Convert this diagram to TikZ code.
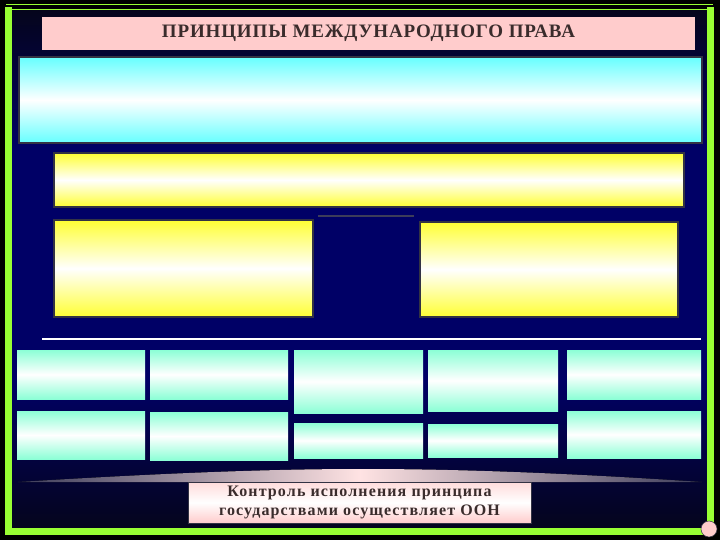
\documentclass[tikz,border=0pt]{standalone}
\usepackage{fontspec}
\setmainfont{Liberation Serif}
\usetikzlibrary{positioning}
\definecolor{framegreen}{HTML}{99FF33}
\definecolor{deepnavy}{HTML}{000066}
\definecolor{nightnavy}{HTML}{05051C}
\definecolor{titlepink}{HTML}{FFCCCC}
\definecolor{skycyan}{HTML}{66FFFF}
\definecolor{sunyellow}{HTML}{FFFF33}
\definecolor{mintaqua}{HTML}{8CFFD6}
\definecolor{edgegray}{HTML}{333344}
\definecolor{inkbrown}{HTML}{3A2C2C}
\definecolor{archgray}{HTML}{3C3C5A}

\begin{document}
\begin{tikzpicture}[x=1pt, y=-1pt]
\tikzstyle{titleBar} = [rectangle, inner sep=0pt, minimum width=653pt, minimum height=33pt, text centered, fill=titlepink, text=inkbrown, font=\fontsize{19}{21}\selectfont\bfseries\addfontfeature{LetterSpace=4.5}]
\tikzstyle{cyanBox} = [rectangle, inner sep=0pt, draw=edgegray, line width=2.5pt, top color=skycyan, bottom color=skycyan, middle color=white]
\tikzstyle{yellowBox} = [rectangle, inner sep=0pt, draw=edgegray, line width=2pt, top color=sunyellow, bottom color=sunyellow, middle color=white]
\tikzstyle{aquaBox} = [rectangle, inner sep=0pt, top color=mintaqua, bottom color=mintaqua, middle color=white]
\tikzstyle{controlBox} = [rectangle, inner sep=0pt, minimum width=343pt, minimum height=41pt, draw=edgegray, line width=0.6pt, top color=titlepink!70!white, bottom color=titlepink, middle color=white, align=center, text=inkbrown, font=\fontsize{16}{19}\selectfont\bfseries\addfontfeature{LetterSpace=7}]

% background and frame
\useasboundingbox (0,0) rectangle (720,540);
\fill[black] (0,0) rectangle (720,540);
\fill[top color=nightnavy, bottom color=deepnavy] (12,11) rectangle (707,150);
\fill[deepnavy] (12,149.5) rectangle (707,380.5);
\fill[top color=deepnavy, bottom color=nightnavy] (12,380) rectangle (707,528);
\draw[framegreen, line width=7pt] (8.5,7) -- (8.5,531.5) -- (710.5,531.5) -- (710.5,7);
\draw[framegreen, line width=1.5pt] (6,4.5) -- (713,4.5);
\draw[framegreen, line width=1.5pt] (11,9.5) -- (708,9.5);

% title
\node (title) [titleBar] at (368.5,33.5) {ПРИНЦИПЫ МЕЖДУНАРОДНОГО ПРАВА};

% upper blocks
\node (principles) [cyanBox, minimum width=683pt, minimum height=86pt] at (360.5,100) {};
\node (charter) [yellowBox, minimum width=630pt, minimum height=54pt] at (369,180) {};
\node (leftBlock) [yellowBox, minimum width=259pt, minimum height=97pt] at (183.5,268.5) {};
\node (rightBlock) [yellowBox, minimum width=258pt, minimum height=95pt] at (549,269.5) {};
\coordinate (gapLeft) at (318,216);
\coordinate (gapRight) at (414,216);
\draw[archgray, line width=1.5pt] (gapLeft) -- (gapRight);

% separator
\coordinate (sepLeft) at (42,339);
\coordinate (sepRight) at (701,339);
\draw[white, line width=1.5pt] (sepLeft) -- (sepRight);

% lower rows
\node (cellA1) [aquaBox, minimum width=128pt, minimum height=49pt] at (81,374.5) {};
\node (cellB1) [aquaBox, minimum width=138pt, minimum height=49pt] at (219,374.5) {};
\node (cellC1) [aquaBox, minimum width=129pt, minimum height=63pt] at (358.5,381.5) {};
\node (cellD1) [aquaBox, minimum width=130pt, minimum height=61pt] at (493,380.5) {};
\node (cellE1) [aquaBox, minimum width=134pt, minimum height=49pt] at (634,374.5) {};
\node (cellA2) [aquaBox, minimum width=128pt, minimum height=48pt] at (81,435) {};
\node (cellB2) [aquaBox, minimum width=138pt, minimum height=48pt] at (219,436) {};
\node (cellC2) [aquaBox, minimum width=129pt, minimum height=35pt] at (358.5,440.5) {};
\node (cellD2) [aquaBox, minimum width=130pt, minimum height=33pt] at (493,440.5) {};
\node (cellE2) [aquaBox, minimum width=134pt, minimum height=47pt] at (634,434.5) {};

% arch and control note
\coordinate (archLeft) at (18,482);
\coordinate (archTop) at (362,469);
\coordinate (archRight) at (702,482);
\fill[left color=archgray, right color=archgray, middle color=titlepink!55!white]
  (archLeft) .. controls (150,474) and (260,469) .. (archTop)
  .. controls (470,469) and (580,474) .. (archRight) -- cycle;
\node (control) [controlBox] at (359.5,502.5) {Контроль исполнения принципа\\государствами осуществляет ООН};

% corner mark
\node (cornerMark) [circle, inner sep=0pt, minimum size=16pt, fill=titlepink, draw=edgegray, line width=0.5pt] at (709,529) {};

\end{tikzpicture}
\end{document}
